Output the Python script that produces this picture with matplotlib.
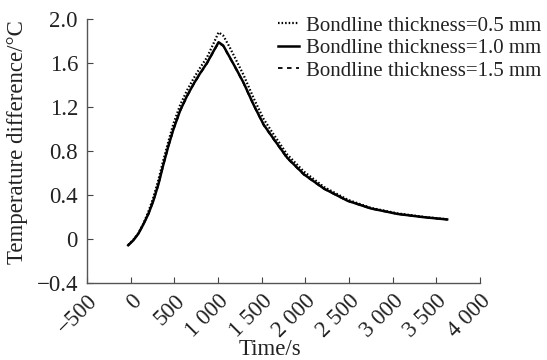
import matplotlib
matplotlib.use("Agg")
import matplotlib.pyplot as plt
from matplotlib.ticker import FuncFormatter

plt.rcParams['font.family'] = ['Liberation Serif', 'DejaVu Serif']

time_s = [-28, 30, 88, 145, 203, 260, 318, 375, 433, 490, 567, 644, 720, 797, 873,
          950, 1007, 1060, 1130, 1200, 1294, 1409, 1524, 1639, 1793, 1984, 2214,
          2483, 2751, 3057, 3363, 3624]

t_05 = [-0.052, -0.005, 0.055, 0.14, 0.25, 0.38, 0.54, 0.72, 0.89, 1.05, 1.22, 1.35,
        1.46, 1.56, 1.65, 1.78, 1.88, 1.85, 1.75, 1.64, 1.49, 1.28, 1.09, 0.95, 0.77,
        0.615, 0.475, 0.36, 0.285, 0.235, 0.203, 0.182]

t_10 = [-0.054, -0.01, 0.05, 0.135, 0.23, 0.35, 0.50, 0.68, 0.85, 1.00, 1.17, 1.30,
        1.41, 1.51, 1.60, 1.71, 1.79, 1.76, 1.66, 1.56, 1.42, 1.22, 1.04, 0.91, 0.74,
        0.59, 0.46, 0.35, 0.28, 0.23, 0.20, 0.18]

t_15 = [-0.054, -0.01, 0.05, 0.133, 0.227, 0.345, 0.495, 0.675, 0.845, 0.995, 1.165,
        1.295, 1.405, 1.505, 1.595, 1.705, 1.785, 1.755, 1.655, 1.555, 1.415, 1.215,
        1.035, 0.905, 0.735, 0.586, 0.457, 0.348, 0.279, 0.229, 0.199, 0.179]

labels = ['Bondline thickness=0.5 mm', 'Bondline thickness=1.0 mm',
          'Bondline thickness=1.5 mm']

x_ticks = [-500, 0, 500, 1000, 1500, 2000, 2500, 3000, 3500, 4000]
y_ticks = [-0.4, 0, 0.4, 0.8, 1.2, 1.6, 2.0]

fig = plt.figure(figsize=(5.47, 3.6), dpi=100)
ax = fig.add_axes([0.159, 0.213, 0.7185, 0.734])

ax.plot(time_s, t_05, color='black', lw=1.6, linestyle=(0, (0.7, 0.9)), label=labels[0])
ax.plot(time_s, t_10, color='black', lw=1.8, linestyle='-', label=labels[1])
ax.plot(time_s, t_15, color='black', lw=1.3, linestyle=(0, (2.5, 2.5)), label=labels[2])

ax.set_xlim(-500, 4000)
ax.set_ylim(-0.4, 2.0)
ax.set_xticks(x_ticks)
ax.set_yticks(y_ticks)


def fmt_x(v, pos):
    v = int(round(v))
    s = f"{abs(v):,}".replace(',', ' ')
    return ('\u2212' if v < 0 else '') + s


def fmt_y(v, pos):
    if abs(v) < 1e-9:
        return '0'
    s = f"{abs(v):.1f}"
    return ('\u2212' if v < 0 else '') + s


ax.xaxis.set_major_formatter(FuncFormatter(fmt_x))
ax.yaxis.set_major_formatter(FuncFormatter(fmt_y))
ax.tick_params(direction='in', length=4.5, width=0.8, labelsize=16.5, colors='#444444',
               labelcolor='#222222')
ax.tick_params(axis='y', pad=6.5)
ax.tick_params(axis='x', pad=5)
for lab in ax.get_xticklabels():
    lab.set_rotation(45)
    lab.set_ha('right')
    lab.set_va('top')
    lab.set_rotation_mode('anchor')

ax.spines['top'].set_visible(False)
ax.spines['right'].set_visible(False)
for sp in ('left', 'bottom'):
    ax.spines[sp].set_linewidth(1.0)
    ax.spines[sp].set_color('#555555')

ax.set_xlabel('Time/s', fontsize=16.5, color='#222222')
ax.set_ylabel('Temperature difference/\u00b0C', fontsize=16.5, color='#222222')
ax.xaxis.set_label_coords(0.466, -0.212)
ax.yaxis.set_label_coords(-0.15, 0.535)

leg = fig.legend(loc='upper left', bbox_to_anchor=(0.508, 0.955), frameon=False,
                 fontsize=15.0, handlelength=1.0, handletextpad=0.35, labelspacing=0.14,
                 borderpad=0, borderaxespad=0)
for t in leg.get_texts():
    t.set_color('#222222')

fig.savefig('out.png', dpi=100)
